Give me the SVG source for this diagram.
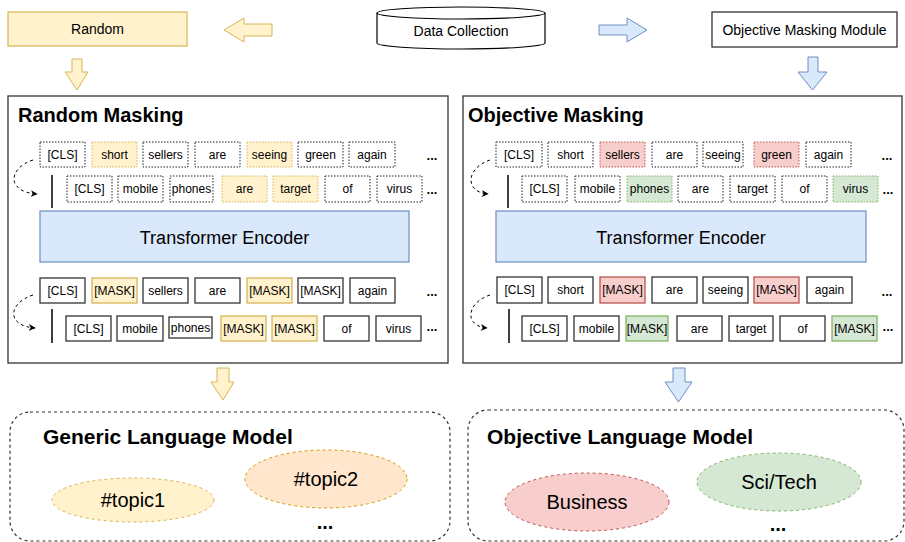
<svg xmlns="http://www.w3.org/2000/svg" width="905" height="542" viewBox="0 0 905 542">
  <style>
    text { font-family: "Liberation Sans", Arial, sans-serif; fill: #000; }
    .lbl { font-size: 14px; text-anchor: middle; dominant-baseline: central; }
    .tk { font-size: 12px; text-anchor: middle; dominant-baseline: central; }
    .title { font-size: 20px; font-weight: bold; }
    .mtitle { font-size: 21px; font-weight: bold; }
    .enc { font-size: 18px; text-anchor: middle; dominant-baseline: central; }
    .big { font-size: 20px; text-anchor: middle; dominant-baseline: central; }
    .dots { font-size: 13px; font-weight: bold; text-anchor: middle; }
    .bigdots { font-size: 20px; font-weight: bold; text-anchor: middle; }
    .panel { fill: #fff; stroke: #333; stroke-width: 1.3; }
    .tok { fill: #fff; stroke: #222; stroke-width: 1; stroke-dasharray: 1.5 1.5; }
    .tokS { fill: #fff; stroke: #333; stroke-width: 1.3; }
    .yel { fill: #fff2cc; stroke: #d6b656; }
    .red { fill: #f8cecc; stroke: #b85450; }
    .grn { fill: #d5e8d4; stroke: #82b366; }
    .blu { fill: #dae8fc; stroke: #6c8ebf; }
    .org { fill: #ffe6cc; stroke: #d79b00; }
    .dashed { stroke-dasharray: 3 3; }
    .vbar { stroke: #000; stroke-width: 1.5; }
    .curve { fill: none; stroke: #000; stroke-width: 1; stroke-dasharray: 3 3; }
    .model { fill: #fff; stroke: #333; stroke-width: 1.2; stroke-dasharray: 3 3; }
  </style>
  <defs>
    <marker id="head" viewBox="0 0 10 10" refX="9" refY="5" markerWidth="7" markerHeight="7" orient="auto">
      <path d="M0,0 L10,5 L0,10 L3,5 Z" fill="#000"/>
    </marker>
  </defs>

  <!-- top row -->
  <g id="random">
    <rect x="8" y="12" width="179" height="34" class="yel" stroke-width="1.2"/>
    <text x="97.5" y="29" class="lbl">Random</text>
  </g>
  <g id="data-collection">
    <path d="M377,13 A84,6 0 0,1 545,13 L545,43 A84,6 0 0,1 377,43 Z" fill="#fff" stroke="#000" stroke-width="1.2"/>
    <path d="M377,13 A84,6 0 0,0 545,13" fill="none" stroke="#000" stroke-width="1.2"/>
    <text x="461" y="31" class="lbl">Data Collection</text>
  </g>
  <g id="objective-module">
    <rect x="712" y="12" width="185" height="35" fill="#fff" stroke="#222" stroke-width="1.2"/>
    <text x="804.5" y="29.5" class="lbl">Objective Masking Module</text>
  </g>

  <!-- connectors (block arrows and dashed flows) -->
  <g id="connectors">
    <path d="M272,24 L244,24 L244,18 L224,30 L244,42 L244,36 L272,36 Z" class="yel" stroke-width="1"/>
    <path d="M599,25 L627,25 L627,18 L647,30 L627,42 L627,35 L599,35 Z" class="blu" stroke-width="1"/>
    <path d="M72,59 L82,59 L82,72 L88,72 L77,90 L65,72 L72,72 Z" class="yel" stroke-width="1"/>
    <path d="M808,57 L818,57 L818,72 L827,72 L812.5,90 L798,72 L808,72 Z" class="blu" stroke-width="1"/>
    <path d="M217,368 L229,368 L229,382 L234,382 L223,400 L211,382 L217,382 Z" class="yel" stroke-width="1"/>
    <path d="M673,368 L685,368 L685,382 L692,382 L678.5,402 L665,382 L673,382 Z" class="blu" stroke-width="1"/>
  </g>

  <!-- left panel -->
  <g id="random-masking">
    <rect x="8" y="96" width="440" height="267" class="panel"/>
    <text x="18" y="122" class="title">Random Masking</text>

    <g id="rm-in-1">
      <rect x="40" y="142" width="45" height="25" class="tok"/><text x="62.5" y="154.5" class="tk">[CLS]</text>
      <rect x="92" y="142" width="45" height="25" class="tok yel"/><text x="114.5" y="154.5" class="tk">short</text>
      <rect x="143" y="142" width="45" height="25" class="tok"/><text x="165.5" y="154.5" class="tk">sellers</text>
      <rect x="195" y="142" width="45" height="25" class="tok"/><text x="217.5" y="154.5" class="tk">are</text>
      <rect x="247" y="142" width="45" height="25" class="tok yel"/><text x="269.5" y="154.5" class="tk">seeing</text>
      <rect x="298" y="142" width="45" height="25" class="tok"/><text x="320.5" y="154.5" class="tk">green</text>
      <rect x="349" y="142" width="46" height="25" class="tok"/><text x="372" y="154.5" class="tk">again</text>
      <text x="432" y="160" class="dots">...</text>
    </g>
    <g id="rm-in-2">
      <line x1="52" y1="175" x2="52" y2="208" class="vbar"/>
      <rect x="67" y="176" width="45" height="26" class="tok"/><text x="89.5" y="189" class="tk">[CLS]</text>
      <rect x="118" y="176" width="45" height="26" class="tok"/><text x="140.5" y="189" class="tk">mobile</text>
      <rect x="170" y="176" width="43" height="26" class="tok"/><text x="191.5" y="189" class="tk">phones</text>
      <rect x="222" y="176" width="45" height="26" class="tok yel"/><text x="244.5" y="189" class="tk">are</text>
      <rect x="273" y="176" width="45" height="26" class="tok yel"/><text x="295.5" y="189" class="tk">target</text>
      <rect x="325" y="176" width="45" height="26" class="tok"/><text x="347.5" y="189" class="tk">of</text>
      <rect x="377" y="176" width="45" height="26" class="tok"/><text x="399.5" y="189" class="tk">virus</text>
      <text x="432" y="194" class="dots">...</text>
    </g>
    <path d="M33,160 C8,168 6,192 37,194" class="curve" marker-end="url(#head)"/>

    <g id="rm-encoder">
      <rect x="40" y="211" width="369" height="51" class="blu" stroke-width="1.2"/>
      <text x="224.5" y="237.5" class="enc">Transformer Encoder</text>
    </g>

    <g id="rm-out-1">
      <rect x="40" y="278" width="45" height="25" class="tokS"/><text x="62.5" y="290.5" class="tk">[CLS]</text>
      <rect x="92" y="278" width="45" height="25" class="tokS yel"/><text x="114.5" y="290.5" class="tk">[MASK]</text>
      <rect x="143" y="278" width="45" height="25" class="tokS"/><text x="165.5" y="290.5" class="tk">sellers</text>
      <rect x="195" y="278" width="45" height="25" class="tokS"/><text x="217.5" y="290.5" class="tk">are</text>
      <rect x="247" y="278" width="45" height="25" class="tokS yel"/><text x="269.5" y="290.5" class="tk">[MASK]</text>
      <rect x="298" y="278" width="45" height="25" class="tokS"/><text x="320.5" y="290.5" class="tk">[MASK]</text>
      <rect x="350" y="278" width="45" height="25" class="tokS"/><text x="372.5" y="290.5" class="tk">again</text>
      <text x="432" y="296" class="dots">...</text>
    </g>
    <g id="rm-out-2">
      <line x1="52" y1="309" x2="52" y2="343" class="vbar"/>
      <rect x="66" y="316" width="45" height="25" class="tokS"/><text x="88.5" y="328.5" class="tk">[CLS]</text>
      <rect x="117" y="316" width="46" height="25" class="tokS"/><text x="140" y="328.5" class="tk">mobile</text>
      <rect x="169" y="317" width="43" height="21" class="tokS"/><text x="190.5" y="327.5" class="tk">phones</text>
      <rect x="221" y="316" width="45" height="25" class="tokS yel"/><text x="243.5" y="328.5" class="tk">[MASK]</text>
      <rect x="272" y="316" width="45" height="25" class="tokS yel"/><text x="294.5" y="328.5" class="tk">[MASK]</text>
      <rect x="324" y="316" width="45" height="25" class="tokS"/><text x="346.5" y="328.5" class="tk">of</text>
      <rect x="376" y="316" width="45" height="25" class="tokS"/><text x="398.5" y="328.5" class="tk">virus</text>
      <text x="432" y="331" class="dots">...</text>
    </g>
    <path d="M33,295 C8,303 6,326 35,328" class="curve" marker-end="url(#head)"/>
  </g>

  <!-- right panel -->
  <g id="objective-masking">
    <rect x="463" y="96" width="439" height="267" class="panel"/>
    <text x="468" y="122" class="title">Objective Masking</text>

    <g id="om-in-1">
      <rect x="496" y="142" width="46" height="25" class="tok"/><text x="519" y="154.5" class="tk">[CLS]</text>
      <rect x="548" y="142" width="45" height="25" class="tok"/><text x="570.5" y="154.5" class="tk">short</text>
      <rect x="600" y="142" width="45" height="25" class="tok red"/><text x="622.5" y="154.5" class="tk">sellers</text>
      <rect x="652" y="142" width="45" height="25" class="tok"/><text x="674.5" y="154.5" class="tk">are</text>
      <rect x="703" y="142" width="40" height="25" class="tok"/><text x="723" y="154.5" class="tk">seeing</text>
      <rect x="754" y="142" width="45" height="25" class="tok red"/><text x="776.5" y="154.5" class="tk">green</text>
      <rect x="806" y="142" width="45" height="25" class="tok"/><text x="828.5" y="154.5" class="tk">again</text>
      <text x="887" y="160" class="dots">...</text>
    </g>
    <g id="om-in-2">
      <line x1="508" y1="175" x2="508" y2="208" class="vbar"/>
      <rect x="522" y="176" width="45" height="26" class="tok"/><text x="544.5" y="189" class="tk">[CLS]</text>
      <rect x="575" y="176" width="45" height="26" class="tok"/><text x="597.5" y="189" class="tk">mobile</text>
      <rect x="627" y="176" width="45" height="26" class="tok grn"/><text x="649.5" y="189" class="tk">phones</text>
      <rect x="678" y="176" width="45" height="26" class="tok"/><text x="700.5" y="189" class="tk">are</text>
      <rect x="730" y="176" width="45" height="26" class="tok"/><text x="752.5" y="189" class="tk">target</text>
      <rect x="782" y="176" width="45" height="26" class="tok"/><text x="804.5" y="189" class="tk">of</text>
      <rect x="833" y="176" width="45" height="26" class="tok grn"/><text x="855.5" y="189" class="tk">virus</text>
      <text x="888" y="194" class="dots">...</text>
    </g>
    <path d="M490,160 C466,168 464,192 488,194" class="curve" marker-end="url(#head)"/>

    <g id="om-encoder">
      <rect x="496" y="211" width="370" height="51" class="blu" stroke-width="1.2"/>
      <text x="681" y="237.5" class="enc">Transformer Encoder</text>
    </g>

    <g id="om-out-1">
      <rect x="497" y="277" width="45" height="26" class="tokS"/><text x="519.5" y="290" class="tk">[CLS]</text>
      <rect x="548" y="277" width="45" height="26" class="tokS"/><text x="570.5" y="290" class="tk">short</text>
      <rect x="600" y="277" width="45" height="26" class="tokS red"/><text x="622.5" y="290" class="tk">[MASK]</text>
      <rect x="652" y="277" width="45" height="26" class="tokS"/><text x="674.5" y="290" class="tk">are</text>
      <rect x="703" y="277" width="45" height="26" class="tokS"/><text x="725.5" y="290" class="tk">seeing</text>
      <rect x="754" y="277" width="45" height="26" class="tokS red"/><text x="776.5" y="290" class="tk">[MASK]</text>
      <rect x="807" y="277" width="45" height="26" class="tokS"/><text x="829.5" y="290" class="tk">again</text>
      <text x="887" y="296" class="dots">...</text>
    </g>
    <g id="om-out-2">
      <line x1="509" y1="309" x2="509" y2="343" class="vbar"/>
      <rect x="522" y="316" width="45" height="25" class="tokS"/><text x="544.5" y="328.5" class="tk">[CLS]</text>
      <rect x="574" y="316" width="45" height="25" class="tokS"/><text x="596.5" y="328.5" class="tk">mobile</text>
      <rect x="626" y="316" width="42" height="25" class="tokS grn"/><text x="647" y="328.5" class="tk">[MASK]</text>
      <rect x="677" y="316" width="45" height="25" class="tokS"/><text x="699.5" y="328.5" class="tk">are</text>
      <rect x="729" y="316" width="44" height="25" class="tokS"/><text x="751" y="328.5" class="tk">target</text>
      <rect x="780" y="316" width="45" height="25" class="tokS"/><text x="802.5" y="328.5" class="tk">of</text>
      <rect x="832" y="316" width="45" height="25" class="tokS grn"/><text x="854.5" y="328.5" class="tk">[MASK]</text>
      <text x="888" y="331" class="dots">...</text>
    </g>
    <path d="M490,295 C466,303 464,326 487,328" class="curve" marker-end="url(#head)"/>
  </g>

  <!-- language models -->
  <g id="generic-lm">
    <rect x="10" y="412" width="440" height="129" rx="20" ry="20" class="model"/>
    <text x="43" y="444" class="mtitle">Generic Language Model</text>
  </g>
  <g id="topic1">
    <ellipse cx="133" cy="500" rx="81" ry="22" class="yel dashed"/>
    <text x="133" y="500" class="big">#topic1</text>
  </g>
  <g id="topic2">
    <ellipse cx="326" cy="479" rx="81" ry="29" class="org dashed"/>
    <text x="326" y="479" class="big">#topic2</text>
  </g>
  <text x="325" y="529" class="bigdots">...</text>

  <g id="objective-lm">
    <rect x="468" y="410" width="436" height="131" rx="20" ry="20" class="model"/>
    <text x="487" y="444" class="mtitle">Objective Language Model</text>
  </g>
  <g id="business">
    <ellipse cx="587" cy="502" rx="82" ry="29" class="red dashed"/>
    <text x="587" y="502" class="big">Business</text>
  </g>
  <g id="scitech">
    <ellipse cx="779" cy="482" rx="82" ry="29" class="grn dashed"/>
    <text x="779" y="482" class="big">Sci/Tech</text>
  </g>
  <text x="778" y="531" class="bigdots">...</text>
</svg>
